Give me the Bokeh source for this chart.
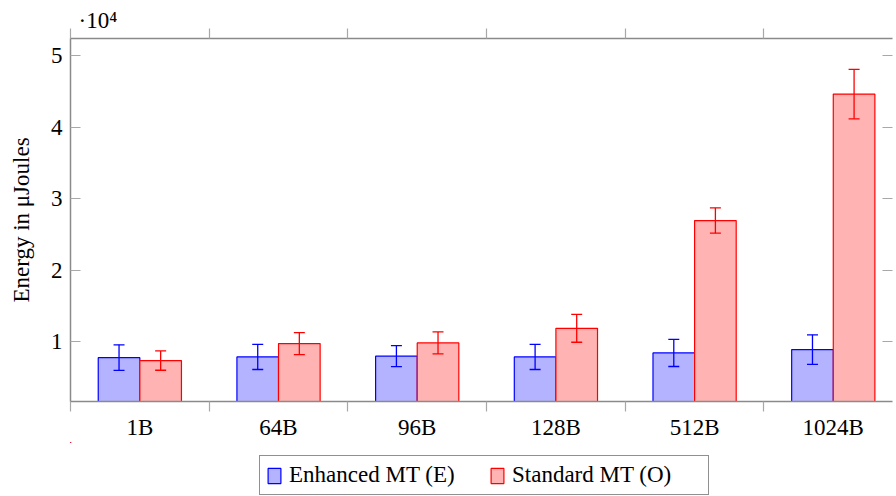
import numpy as np
from bokeh.plotting import figure
from bokeh.layouts import column
from bokeh.models import (ColumnDataSource, Range1d, FixedTicker, LinearAxis,
                          Whisker, TeeHead, Legend, LegendItem, Title)
from bokeh.embed import file_html
from bokeh.resources import INLINE

# ---- data (values in µJoules) ----
categories = ["1B", "64B", "96B", "128B", "512B", "1024B"]
enhanced = [7800, 7900, 8000, 7900, 8460, 8930]
enhanced_err = [1790, 1760, 1470, 1760, 1900, 2060]
standard = [7390, 9760, 9860, 11900, 26960, 44630]
standard_err = [1350, 1540, 1540, 1950, 1770, 3450]
y_ticks = [10000, 20000, 30000, 40000, 50000]
y_tick_labels = ["1", "2", "3", "4", "5"]
series_names = ["Enhanced MT (E)", "Standard MT (O)"]
y_title = "Energy in μJoules"
scale_note = "·10⁴"

FONT = "Liberation Serif"
FS = "23px"
AXIS_COL = "#8a8a8a"
TICK_COL = "#a8a8a8"
BLUE_FILL, BLUE = "#b3b3ff", "#0000ff"
RED_FILL, RED = "#ffb3b3", "#ff0000"

idx = np.arange(len(categories))
bar_w = 0.3

e = np.array(enhanced, dtype=float)
ee = np.array(enhanced_err, dtype=float)
s = np.array(standard, dtype=float)
se = np.array(standard_err, dtype=float)

src_e = ColumnDataSource(dict(x=idx - bar_w / 2, top=e, upper=e + ee, lower=e - ee))
src_s = ColumnDataSource(dict(x=idx + bar_w / 2, top=s, upper=s + se, lower=s - se))

Y0 = 1670
title = Title(text=scale_note, align="left", offset=8, standoff=-8,
              text_font=FONT, text_font_size="23px", text_font_style="normal",
              text_color="black")

p = figure(width=896, height=442,
           x_range=Range1d(-0.5, 5.427), y_range=Range1d(Y0, 52400),
           x_axis_type=None, y_axis_type=None, title=title,
           output_backend="svg", toolbar_location=None,
           min_border_left=70, min_border_right=4,
           min_border_top=38, min_border_bottom=40)
p.outline_line_color = None
p.background_fill_color = "white"
p.border_fill_color = "white"

r_e = p.vbar(x="x", top="top", bottom=Y0, width=bar_w, source=src_e,
             fill_color=BLUE_FILL, line_color=BLUE, line_width=1.2)
r_s = p.vbar(x="x", top="top", bottom=Y0, width=bar_w, source=src_s,
             fill_color=RED_FILL, line_color=RED, line_width=1.2)

for src, col in ((src_e, BLUE), (src_s, RED)):
    w = Whisker(source=src, base="x", upper="upper", lower="lower",
                line_color=col, line_width=1.3, level="overlay",
                upper_head=TeeHead(size=11, line_color=col, line_width=1.3),
                lower_head=TeeHead(size=11, line_color=col, line_width=1.3))
    p.add_layout(w)

boundaries = [float(i) - 0.5 for i in idx]
x_ticker = FixedTicker(ticks=[float(i) for i in idx], minor_ticks=boundaries)
x_ticker_top = FixedTicker(ticks=[], minor_ticks=boundaries)
y_ticker = FixedTicker(ticks=y_ticks, minor_ticks=[])
y_ticker_right = FixedTicker(ticks=[], minor_ticks=y_ticks)


def style_axis(ax):
    ax.axis_line_color = AXIS_COL
    ax.axis_line_width = 1.5
    ax.major_tick_line_color = TICK_COL
    ax.minor_tick_line_color = TICK_COL
    ax.major_tick_line_width = 1.2
    ax.minor_tick_line_width = 1.2
    ax.major_label_text_font = FONT
    ax.major_label_text_font_size = FS
    ax.major_label_text_color = "black"


xb = LinearAxis(ticker=x_ticker,
                major_label_overrides={int(i): c for i, c in zip(idx, categories)})
style_axis(xb)
xb.major_tick_in = 0
xb.major_tick_out = 0
xb.minor_tick_in = 0
xb.minor_tick_out = 10
xb.major_label_standoff = 3
p.add_layout(xb, "below")

xt = LinearAxis(ticker=x_ticker_top)
style_axis(xt)
xt.major_tick_in = 0
xt.major_tick_out = 0
xt.minor_tick_in = 0
xt.minor_tick_out = 10
xt.major_label_standoff = 0
p.add_layout(xt, "above")

yl = LinearAxis(ticker=y_ticker, axis_label=y_title,
                major_label_overrides={t: l for t, l in zip(y_ticks, y_tick_labels)})
style_axis(yl)
yl.major_tick_in = 10
yl.major_tick_out = 0
yl.major_label_standoff = 8
yl.axis_label_text_font = FONT
yl.axis_label_text_font_size = "23px"
yl.axis_label_text_font_style = "normal"
yl.axis_label_text_color = "black"
yl.axis_label_standoff = 14
p.add_layout(yl, "left")

yr = LinearAxis(ticker=y_ticker_right)
style_axis(yr)
yr.axis_line_color = None
yr.minor_tick_in = 10
yr.minor_tick_out = 0
yr.major_tick_in = 0
yr.major_tick_out = 0
yr.major_label_standoff = 0
p.add_layout(yr, "right")

# ---- legend strip below the chart (its bars lie far outside its own ranges) ----
q = figure(width=896, height=54, x_range=Range1d(10, 11), y_range=Range1d(-1000, 0),
           x_axis_type=None, y_axis_type=None,
           output_backend="svg", toolbar_location=None,
           min_border_left=0, min_border_right=0,
           min_border_top=0, min_border_bottom=0)
q.outline_line_color = None
q.grid.visible = False
le = q.vbar(x="x", top="top", bottom=Y0, width=bar_w, source=src_e,
            fill_color=BLUE_FILL, line_color=BLUE, line_width=1.2)
ls = q.vbar(x="x", top="top", bottom=Y0, width=bar_w, source=src_s,
            fill_color=RED_FILL, line_color=RED, line_width=1.2)

legend = Legend(items=[LegendItem(label=series_names[0], renderers=[le]),
                       LegendItem(label=series_names[1], renderers=[ls])],
                orientation="horizontal", location=(189, 1),
                border_line_color="#222222", border_line_width=1,
                label_text_font=FONT, label_text_font_size=FS,
                label_text_color="black",
                glyph_width=16, glyph_height=19, label_standoff=7,
                label_width=190, spacing=10, padding=6, margin=0)
q.add_layout(legend, "center")

layout = column(p, q, spacing=0)
open("out.html", "w").write(file_html(layout, INLINE))
